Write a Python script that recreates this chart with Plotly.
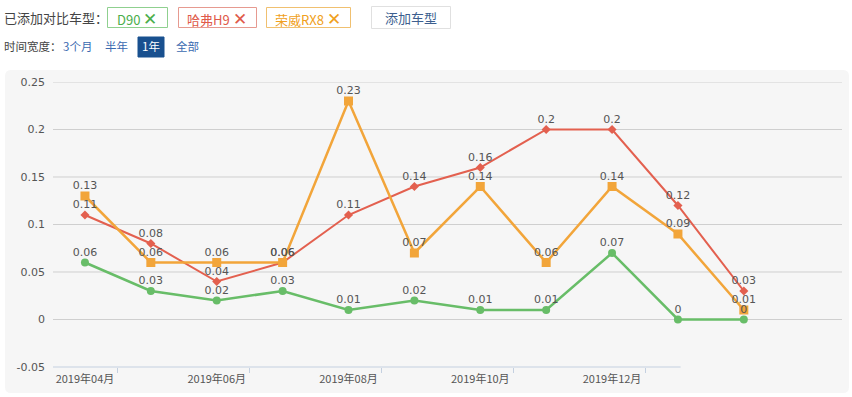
import plotly.graph_objects as go

# ---- data ----
months = ["2019年04月", "2019年05月", "2019年06月", "2019年07月", "2019年08月", "2019年09月",
          "2019年10月", "2019年11月", "2019年12月", "2020年01月", "2020年02月"]
d90 = [0.06, 0.03, 0.02, 0.03, 0.01, 0.02, 0.01, 0.01, 0.07, 0, 0]
h9 = [0.11, 0.08, 0.04, 0.06, 0.11, 0.14, 0.16, 0.2, 0.2, 0.12, 0.03]
rx8 = [0.13, 0.06, 0.06, 0.06, 0.23, 0.07, 0.14, 0.06, 0.14, 0.09, 0.01]
series_names = ["D90", "哈弗H9", "荣威RX8"]
y_ticks = [-0.05, 0, 0.05, 0.1, 0.15, 0.2, 0.25]
y_ticktext = ["-0.05", "0", "0.05", "0.1", "0.15", "0.2", "0.25"]
label_idx = [0, 2, 4, 6, 8]

W, H = 852, 397
ML, MR, MT, MB = 53, 10, 82, 30
PW, PH = W - ML - MR, H - MT - MB


def px(x):
    return (x - ML) / PW


def py(y):
    return (H - MB - y) / PH


GREEN = "#68bd68"
RED = "#e3604f"
ORANGE = "#f2a53a"
LABEL_FONT = dict(family="DejaVu Sans", size=11, color="#555555")
CJK = "Noto Sans CJK SC"

xs = list(range(len(months)))
fig = go.Figure()

styles = [
    (d90, GREEN, "circle", 8, 2.5),
    (h9, RED, "diamond", 7, 2),
    (rx8, ORANGE, "square", 9, 2.5),
]
for (vals, col, sym, size, lw), name in zip(styles, series_names):
    fig.add_trace(go.Scatter(
        x=xs, y=vals, name=name, mode="lines+markers",
        line=dict(color=col, width=lw),
        marker=dict(color=col, symbol=sym, size=size, line=dict(width=0)),
        showlegend=False, hovertemplate="%{y}<extra>" + name + "</extra>",
    ))
for (vals, col, sym, size, lw), name in zip(styles, series_names):
    fig.add_trace(go.Scatter(
        x=xs, y=vals, mode="markers+text", text=[f"{v:g}" for v in vals],
        marker=dict(size=5, opacity=0),
        textposition="top center", textfont=LABEL_FONT,
        showlegend=False, hoverinfo="skip",
    ))

shapes = []
# rounded gray chart background
x0, x1, y0, y1 = 5, 849, 70, 393
r = 6
path = (f"M {px(x0 + r)},{py(y0)} L {px(x1 - r)},{py(y0)} Q {px(x1)},{py(y0)} {px(x1)},{py(y0 + r)} "
        f"L {px(x1)},{py(y1 - r)} Q {px(x1)},{py(y1)} {px(x1 - r)},{py(y1)} "
        f"L {px(x0 + r)},{py(y1)} Q {px(x0)},{py(y1)} {px(x0)},{py(y1 - r)} "
        f"L {px(x0)},{py(y0 + r)} Q {px(x0)},{py(y0)} {px(x0 + r)},{py(y0)} Z")
shapes.append(dict(type="path", path=path, xref="paper", yref="paper",
                   fillcolor="#f6f6f6", line=dict(width=0), layer="below"))
# horizontal grid lines
for v in y_ticks[1:]:
    shapes.append(dict(type="line", xref="paper", yref="y", x0=0, x1=1, y0=v, y1=v,
                       line=dict(color="#cfcfcf", width=1), layer="below"))
# x axis line
shapes.append(dict(type="line", xref="x", yref="paper", x0=-0.485, x1=9.04, y0=0, y1=0,
                   line=dict(color="#c4d0e0", width=1), layer="below"))

annotations = []


def box(xa, xb, ya, yb, border, fill="rgba(0,0,0,0)"):
    shapes.append(dict(type="rect", xref="paper", yref="paper",
                       x0=px(xa), x1=px(xb), y0=py(yb), y1=py(ya),
                       line=dict(color=border, width=1), fillcolor=fill))


def text(x, y, s, color, size=12, anchor="left"):
    annotations.append(dict(x=px(x), y=py(y), xref="paper", yref="paper", text=s,
                            showarrow=False, xanchor=anchor, yanchor="middle",
                            font=dict(family=CJK, size=size, color=color)))


X = '<span style="font-size:17px">✕</span>'
text(2, 18, "已添加对比车型：", "#444444", 13)
box(107.5, 167.5, 7.5, 27.5, "#8fd08f")
text(137, 18, "D90 " + X, "#4cae4c", 13, "center")
box(178.5, 256.5, 7.5, 27.5, "#e69a90")
text(217, 18, "哈弗H9 " + X, "#e05a4a", 13, "center")
box(266.5, 350.5, 7.5, 27.5, "#f0c070")
text(308, 18, "荣威RX8 " + X, "#f0a020", 13, "center")
box(371.5, 450.5, 6.5, 28.5, "#e0e0e0")
text(411, 18, "添加车型", "#3d5f8f", 13, "center")

text(2, 46, "时间宽度：", "#444444", 11.5)
text(77, 46, "3个月", "#3a6ab0", 11.5, "center")
text(116, 46, "半年", "#3a6ab0", 11.5, "center")
box(138, 164, 37, 57, "#19508f", "#19508f")
text(151, 46, "1年", "#ffffff", 11.5, "center")
text(187, 46, "全部", "#3a6ab0", 11.5, "center")

fig.update_layout(
    width=W, height=H,
    margin=dict(l=ML, r=MR, t=MT, b=MB, pad=0),
    paper_bgcolor="white", plot_bgcolor="rgba(0,0,0,0)",
    shapes=shapes, annotations=annotations,
    xaxis=dict(range=[-0.485, 11.49], showgrid=False, zeroline=False, showline=False,
               tickmode="array", tickvals=label_idx, ticktext=[months[i] for i in label_idx],
               ticks="", ticklabelstandoff=4,
               tickfont=dict(family=CJK, size=11, color="#555555"),
               minor=dict(tickmode="array", tickvals=[i + 0.5 for i in label_idx],
                          ticks="outside", ticklen=5, tickcolor="#c4d0e0", tickwidth=1)),
    yaxis=dict(range=[-0.05, 0.25], showgrid=False, zeroline=False, showline=False,
               tickmode="array", tickvals=y_ticks, ticktext=y_ticktext,
               ticklabelstandoff=7,
               tickfont=dict(family="DejaVu Sans", size=11, color="#555555")),
)

fig.write_html("out.html", config={"displayModeBar": False},
               post_script="document.body.style.margin='0';document.body.style.overflow='hidden';")
